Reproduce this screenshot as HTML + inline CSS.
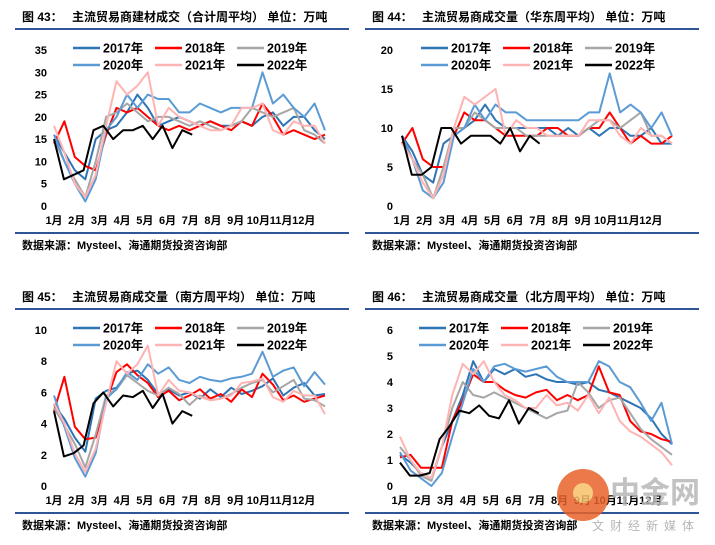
<!DOCTYPE html>
<html><head><meta charset="utf-8">
<style>
body{margin:0;background:#fff;width:715px;height:545px;overflow:hidden;font-family:"Liberation Sans","Noto Sans CJK SC",sans-serif;}
svg{display:block}
</style></head><body>
<svg id="c" width="715" height="545" xmlns="http://www.w3.org/2000/svg"></svg>
<script>
const years=["2017年","2018年","2019年","2020年","2021年","2022年"];
const colors=["#2e75b6","#ff0000","#a6a6a6","#5b9bd5","#ffb3b3","#000000"];
const months=["1月","2月","3月","4月","5月","6月","7月","8月","9月","10月","11月","12月"];
const titles=["图 43：　 主流贸易商建材成交（合计周平均） 单位：万吨","图 44：　 主流贸易商成交量（华东周平均） 单位：万吨","图 45：　 主流贸易商成交量（南方周平均） 单位：万吨","图 46：　 主流贸易商成交量（北方周平均） 单位：万吨"];
const yMax=[35,20,10,6];
const yStep=[5,5,2,1];
const p1_2017=[16,12,8,6,15,17,18,21,25,22,18,19,20,19,18,19,18,18,19,18,20,21,18,20,20,17,15];
const p1_2018=[14,19,11,9,8,16,22,21,22,20,18,17,18,17,18,19,18,17,19,18,23,20,16,17,16,15,16];
const p1_2019=[15,10,6,2,10,20,21,23,21,19,20,20,19,18,19,18,17,18,19,22,21,20,21,22,17,16,14];
const p1_2020=[16,10,5,1,6,17,20,25,22,25,24,24,21,21,23,22,21,22,22,22,30,23,25,22,20,23,17];
const p1_2021=[18,12,5,2,7,18,28,25,27,30,18,22,20,19,18,17,17,18,22,22,23,17,16,19,18,18,14];
const p1_2022=[15,6,7,8,17,18,15,17,17,18,15,18,13,17,16];
const p2_2017=[9,7,4,3,8,9,10,11,13,11,10,10,10,10,10,9,10,9,10,9,10,10,9,9,10,8,8];
const p2_2018=[8,10,6,5,5,9,12,11,11,10,9,9,9,9,10,10,9,9,10,10,12,10,8,9,8,8,9];
const p2_2019=[9,6,4,1,5,10,10,12,11,10,10,10,9,9,9,9,9,9,10,11,11,10,11,12,9,9,8];
const p2_2020=[9,6,2,1,3,9,10,13,11,13,12,12,11,11,11,11,11,11,12,12,17,12,13,12,10,12,9];
const p2_2021=[8,6,3,1,4,10,14,13,14,15,9,11,10,10,9,9,9,9,11,11,11,9,8,10,9,9,8];
const p2_2022=[9,4,4,5,10,10,8,9,9,9,8,10,7,9,8];
const p3_2017=[5.2,4.3,3.1,2.2,5.6,6.1,6.3,7.2,7.4,6.8,5.9,6.2,5.8,6.0,5.6,6.2,5.7,6.3,5.9,6.1,6.4,6.9,5.8,6.3,6.6,5.8,5.9];
const p3_2018=[4.8,7.0,3.8,3.0,3.1,5.4,7.3,7.8,7.1,6.6,5.7,6.1,5.5,5.8,6.2,5.6,5.9,5.4,6.2,5.7,7.2,6.5,5.5,5.8,5.4,5.6,5.8];
const p3_2019=[5.0,3.9,2.7,1.2,3.3,5.8,6.2,7.1,6.6,6.1,5.8,6.3,5.9,5.2,5.8,5.5,5.6,5.9,6.3,6.6,6.8,6.0,6.4,6.8,5.6,5.5,5.1];
const p3_2020=[5.8,3.8,1.8,0.6,2.1,5.6,6.2,7.3,6.8,7.8,7.2,7.6,6.8,6.6,7.0,6.8,6.7,6.9,7.0,7.2,8.6,7.0,7.4,7.6,6.4,7.3,6.5];
const p3_2021=[5.3,4.0,2.1,0.9,2.4,5.3,8.0,7.2,7.8,9.0,5.8,6.8,6.1,6.0,5.7,5.5,5.6,5.8,6.6,6.7,6.9,5.7,5.4,6.1,5.8,5.8,4.6];
const p3_2022=[4.8,1.9,2.1,2.6,5.3,6.0,5.1,5.8,5.7,6.1,5.0,5.9,4.0,4.8,4.5];
const p4_2017=[1.2,0.9,0.5,0.3,1.5,2.5,3.5,4.8,4.0,4.5,4.3,4.5,4.2,4.3,4.1,4.0,4.0,3.9,4.0,3.7,3.6,3.4,3.2,3.0,2.6,2.0,1.6];
const p4_2018=[1.1,1.2,0.7,0.7,0.7,2.5,3.3,4.3,4.0,4.0,3.7,3.5,3.4,3.6,3.7,3.3,3.5,3.3,3.5,4.6,3.6,3.5,2.5,2.1,2.0,1.8,1.7];
const p4_2019=[1.5,1.0,0.4,0.2,1.5,3.0,4.0,3.5,3.4,3.6,3.4,3.2,3.0,2.8,2.6,2.8,2.9,4.0,3.6,3.0,3.3,3.4,2.8,2.2,1.8,1.5,1.2];
const p4_2020=[1.3,0.6,0.3,0.0,0.5,1.9,3.2,4.5,4.0,4.6,4.7,4.5,4.4,4.5,4.6,4.2,4.0,4.0,4.0,4.8,4.6,4.0,3.8,3.2,2.5,3.2,1.6];
const p4_2021=[1.9,1.0,0.5,0.3,1.5,3.5,4.7,4.3,4.8,4.0,3.5,3.3,3.0,3.0,3.5,3.1,3.2,2.9,3.5,2.8,3.4,2.5,2.1,1.9,1.6,1.3,0.8];
const p4_2022=[0.9,0.4,0.4,0.5,1.8,2.3,2.9,2.8,3.1,2.7,2.6,3.3,2.4,3.0,2.8];
const panelSeries=[[p1_2017,p1_2018,p1_2019,p1_2020,p1_2021,p1_2022],[p2_2017,p2_2018,p2_2019,p2_2020,p2_2021,p2_2022],[p3_2017,p3_2018,p3_2019,p3_2020,p3_2021,p3_2022],[p4_2017,p4_2018,p4_2019,p4_2020,p4_2021,p4_2022]];

const svg=document.getElementById('c');
const NS="http://www.w3.org/2000/svg";
function mk(tag,attrs,parent){const e=document.createElementNS(NS,tag);for(const k in attrs)e.setAttribute(k,attrs[k]);(parent||svg).appendChild(e);return e;}
const layout=[{ox:0,oy:0,x0:54,x1:325,lx:47},{ox:350,oy:0,x0:402,x1:672,lx:393},{ox:0,oy:280,x0:54,x1:325,lx:47},{ox:350,oy:280,x0:400,x1:672,lx:393}];

layout.forEach((L,p)=>{
  const g=mk('g',{});
  
  
  const yTop=L.oy+50,yBot=L.oy+206;
  const ys=v=>yBot-(v/yMax[p])*(yBot-yTop);
  const xs=w=>L.x0+w/51*(L.x1-L.x0);
  const t=mk('text',{x:L.ox+22,y:L.oy+21,'font-size':12,'font-weight':'bold',fill:'#000'},g);
  t.textContent=titles[p];
  
  
  const r1=mk('rect',{x:L.ox+15,y:L.oy+28,width:334,height:2,fill:'#2f5597'},g);
  
  
  const r2=mk('rect',{x:L.ox+15,y:L.oy+232,width:334,height:2,fill:'#2f5597'},g);
  
  
  const s=mk('text',{x:L.ox+22,y:L.oy+249,'font-size':11,'font-weight':'bold',fill:'#000'},g);
  s.textContent="数据来源：Mysteel、海通期货投资咨询部";
  
  
  for(let v=0;v<=yMax[p]+1e-9;v+=yStep[p]){
    const tl=mk('text',{x:L.lx,y:ys(v)+4,'font-size':11,'font-weight':'bold','text-anchor':'end'},g);
    tl.textContent=v;
    
    
  }
  months.forEach((m,i)=>{
    const ml=mk('text',{x:xs(0)+i*(L.x1-L.x0)*0.0838,y:yBot+18,'font-size':11,'font-weight':'bold','text-anchor':'middle'},g);
    ml.textContent=m;
    
    
  });
  panelSeries[p].forEach((arr,k)=>{
    const span=k==5?26:51;
    const pts=arr.map((v,i)=>xs(i*span/(arr.length-1)).toFixed(1)+','+ys(v).toFixed(1)).join(' ');
    const pl=mk('polyline',{points:pts,fill:'none',stroke:colors[k],'stroke-width':2,'stroke-linejoin':'round'},g);
    
    
  });
  years.forEach((y,k)=>{
    const col=k%3,row=Math.floor(k/3);
    const lx=L.x0+[19,101,183][col],ly=yTop-2+row*17;
    const ll=mk('line',{x1:lx,y1:ly,x2:lx+27,y2:ly,stroke:colors[k],'stroke-width':2.5},g);
    
    
    const lt=mk('text',{x:lx+30,y:ly+4.5,'font-size':12.5,'font-weight':'bold'},g);
    lt.textContent=y;
    
    
  });
});
const wm=mk('g',{opacity:0.85});


mk('circle',{cx:583,cy:495,r:26,fill:'#e8622a'},wm);
mk('circle',{cx:583,cy:493,r:10,fill:'#f6c16a'},wm);
const wt=mk('text',{x:610,y:503,'font-size':30,'font-weight':'bold',fill:'#b8b8b8'},wm);
wt.textContent="中金网";
const wt2=mk('text',{x:592,y:530,'font-size':12,fill:'#aaa','letter-spacing':'6'},wm);
wt2.textContent="文财经新媒体";
</script>
</body></html>
